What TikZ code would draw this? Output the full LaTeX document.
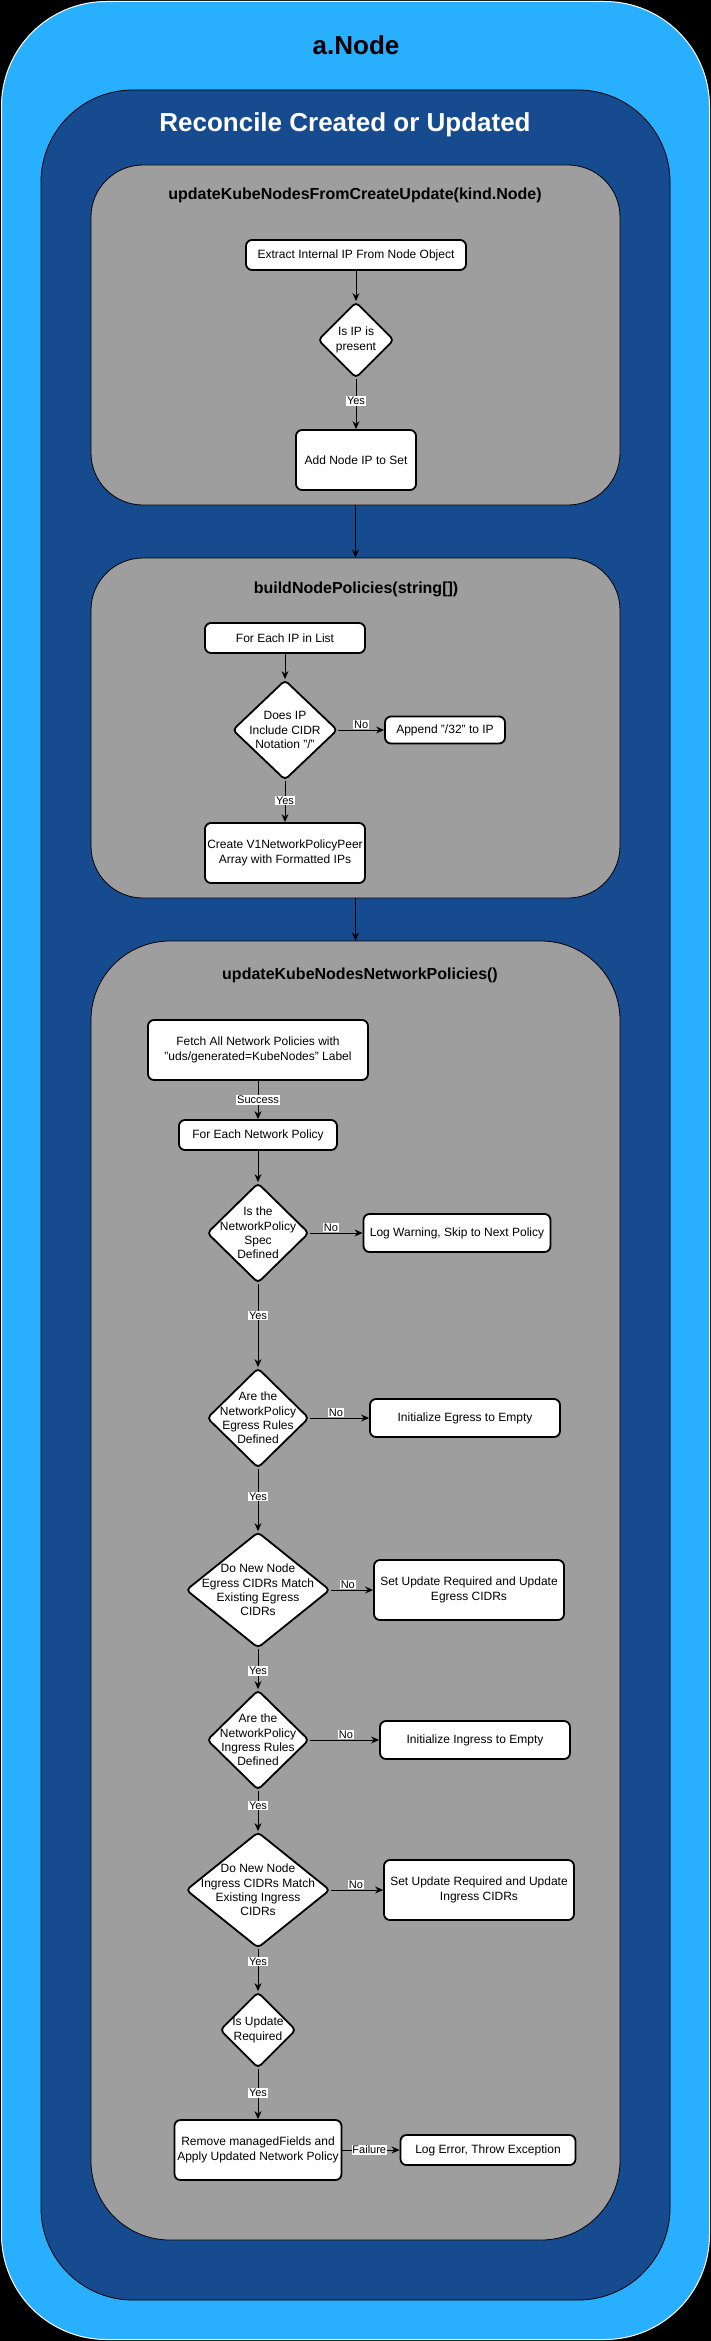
\documentclass[tikz,border=0pt]{standalone}
\usepackage{fontspec}
\setmainfont{Liberation Sans}
\usetikzlibrary{shapes.geometric,arrows.meta}

\definecolor{skyblue}{RGB}{41,175,255}
\definecolor{navyblue}{RGB}{22,75,143}
\definecolor{panelgrey}{RGB}{158,158,158}

\begin{document}
\begin{tikzpicture}[x=1pt, y=-1pt,
    panel/.style={draw=black, line width=0.8pt, fill=panelgrey, inner sep=0pt},
    proc/.style={draw, fill=white, line width=1.8pt, rounded corners=6pt, align=center, inner sep=2pt, font=\fontsize{12}{14.4}\selectfont},
    decision/.style={diamond, draw, fill=white, line width=1.8pt, rounded corners=4pt, inner sep=0pt},
    dtext/.style={align=center, inner sep=0pt, font=\fontsize{12}{14.4}\selectfont},
    arr/.style={-{Stealth[length=8pt,width=7pt]}, line width=1pt},
    lbl/.style={fill=white, inner sep=0.8pt, font=\fontsize{11}{13}\selectfont},
    paneltitle/.style={font=\fontsize{16}{19}\selectfont\bfseries},
    bigtitle/.style={font=\fontsize{26}{31}\selectfont\bfseries}]

        \useasboundingbox (0,0) rectangle (711,2341);
        \fill[black] (0,0) rectangle (711,2341);

        % Containers
        \node[draw=white, line width=1pt, fill=skyblue, rounded corners=105pt, inner sep=0pt,
              minimum width=708pt, minimum height=2338pt] (outer) at (355.5,1170.5) {};
        \node[bigtitle] (outertitle) at (356,45) {a.Node};
        \node[draw=black, line width=0.8pt, fill=navyblue, rounded corners=92pt, inner sep=0pt,
              minimum width=629pt, minimum height=2210pt] (reconcile) at (355.5,1195) {};
        \node[bigtitle, text=white] (reconciletitle) at (345,125) {Reconcile Created or Updated};

        \node[panel, rounded corners=52pt, minimum width=529pt, minimum height=340pt] (g1) at (355.5,335) {};
        \node[panel, rounded corners=52pt, minimum width=529pt, minimum height=340pt] (g2) at (355.5,728) {};
        \node[panel, rounded corners=79pt, minimum width=529pt, minimum height=1299pt] (g3) at (355.5,1590.5) {};
        \node[paneltitle] (g1title) at (355,195) {updateKubeNodesFromCreateUpdate(kind.Node)};
        \node[paneltitle] (g2title) at (356,589) {buildNodePolicies(string[])};
        \node[paneltitle] (g3title) at (360,975) {updateKubeNodesNetworkPolicies()};

        % Panel 1
        \node[proc, minimum width=220pt, minimum height=30pt] (extract) at (356,255) {Extract Internal IP From Node Object};
        \node[decision, minimum width=76pt, minimum height=76pt, label={[dtext]center:Is IP is\\present}] (ipq) at (356,340) {};
        \node[proc, minimum width=120pt, minimum height=60pt] (addip) at (356,460) {Add Node IP to Set};

        % Panel 2
        \node[proc, minimum width=160pt, minimum height=30pt] (eachip) at (285,638) {For Each IP in List};
        \node[decision, minimum width=105pt, minimum height=100pt, label={[dtext]center:Does IP\\Include CIDR\\Notation "/"}] (cidrq) at (285,730) {};
        \node[proc, minimum width=120pt, minimum height=27pt] (append) at (445,730) {Append "/32" to IP};
        \node[proc, minimum width=160pt, minimum height=60pt, inner sep=0pt] (peer) at (285,853) {Create V1NetworkPolicyPeer\\Array with Formatted IPs};

        % Panel 3
        \node[proc, minimum width=220pt, minimum height=60pt] (fetch) at (258,1050) {Fetch All Network Policies with\\"uds/generated=KubeNodes" Label};
        \node[proc, minimum width=158pt, minimum height=30pt] (eachpol) at (258,1135) {For Each Network Policy};
        \node[decision, minimum width=102pt, minimum height=100pt, label={[dtext]center:Is the\\NetworkPolicy\\Spec\\Defined}] (specq) at (258,1233) {};
        \node[proc, minimum width=187pt, minimum height=38pt] (skip) at (457,1233) {Log Warning, Skip to Next Policy};
        \node[decision, minimum width=102pt, minimum height=100pt, label={[dtext]center:Are the\\NetworkPolicy\\Egress Rules\\Defined}] (egrq) at (258,1418) {};
        \node[proc, minimum width=190pt, minimum height=38pt] (egrinit) at (465,1418) {Initialize Egress to Empty};
        \node[decision, minimum width=144pt, minimum height=116pt, label={[dtext]center:Do New Node\\Egress CIDRs Match\\Existing Egress\\CIDRs}] (egrcidrq) at (258,1590) {};
        \node[proc, minimum width=190pt, minimum height=60pt] (egrset) at (469,1590) {Set Update Required and Update\\Egress CIDRs};
        \node[decision, minimum width=102pt, minimum height=100pt, label={[dtext]center:Are the\\NetworkPolicy\\Ingress Rules\\Defined}] (ingrq) at (258,1740) {};
        \node[proc, minimum width=190pt, minimum height=38pt] (ingrinit) at (475,1740) {Initialize Ingress to Empty};
        \node[decision, minimum width=144pt, minimum height=116pt, label={[dtext]center:Do New Node\\Ingress CIDRs Match\\Existing Ingress\\CIDRs}] (ingrcidrq) at (258,1890) {};
        \node[proc, minimum width=190pt, minimum height=60pt] (ingrset) at (479,1890) {Set Update Required and Update\\Ingress CIDRs};
        \node[decision, minimum width=76pt, minimum height=76pt, label={[dtext]center:Is Update\\Required}] (updq) at (258,2030) {};
        \node[proc, minimum width=167pt, minimum height=60pt, inner sep=0pt] (apply) at (258,2150) {Remove managedFields and\\Apply Updated Network Policy};
        \node[proc, minimum width=175pt, minimum height=30pt] (logerr) at (488,2150) {Log Error, Throw Exception};

        % Edges between panels
        \draw[arr] (g1) -- (g2);
        \draw[arr] (g2) -- (g3);

        % Edges, panel 1
        \draw[arr] (extract) -- (ipq);
        \draw[arr] (ipq) -- node[lbl, pos=0.44] {Yes} (addip);

        % Edges, panel 2
        \draw[arr] (eachip) -- (cidrq);
        \draw[arr] (cidrq) -- node[lbl, above=0.5pt] {No} (append);
        \draw[arr] (cidrq) -- node[lbl, pos=0.47] {Yes} (peer);

        % Edges, panel 3
        \draw[arr] (fetch) -- node[lbl] {Success} (eachpol);
        \draw[arr] (eachpol) -- (specq);
        \draw[arr] (specq) -- node[lbl, pos=0.4, above=0.5pt] {No} (skip);
        \draw[arr] (specq) -- node[lbl, pos=0.38] {Yes} (egrq);
        \draw[arr] (egrq) -- node[lbl, pos=0.44, above=0.5pt] {No} (egrinit);
        \draw[arr] (egrq) -- node[lbl, pos=0.44] {Yes} (egrcidrq);
        \draw[arr] (egrcidrq) -- node[lbl, pos=0.4, above=0.5pt] {No} (egrset);
        \draw[arr] (egrcidrq) -- node[lbl, pos=0.55] {Yes} (ingrq);
        \draw[arr] (ingrq) -- node[lbl, pos=0.52, above=0.5pt] {No} (ingrinit);
        \draw[arr] (ingrq) -- node[lbl, pos=0.36] {Yes} (ingrcidrq);
        \draw[arr] (ingrcidrq) -- node[lbl, pos=0.48, above=0.5pt] {No} (ingrset);
        \draw[arr] (ingrcidrq) -- node[lbl, pos=0.3] {Yes} (updq);
        \draw[arr] (updq) -- node[lbl, pos=0.48] {Yes} (apply);
        \draw[arr] (apply) -- node[lbl, pos=0.47] {Failure} (logerr);
    \end{tikzpicture}
\end{document}
